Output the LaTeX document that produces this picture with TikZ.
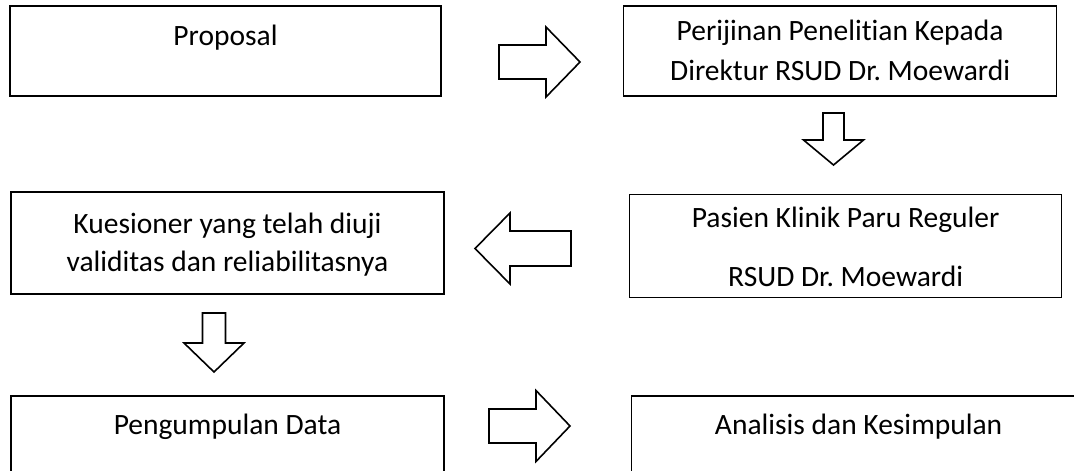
\documentclass[tikz,border=0pt]{standalone}
\usepackage{fontspec}
\setmainfont{Carlito}[RawFeature={-liga}]
\frenchspacing
\usetikzlibrary{positioning}
\tikzset{
  stepbox/.style={draw, rectangle, line width=1.6pt, inner sep=0pt},
  boxtext/.style={anchor=center, align=center, font=\fontsize{29.5}{40}\selectfont},
  fatline/.style={draw, line width=1.6pt, line join=miter, fill=white},
  % block arrow pointing right: length, head length, shaft width, head width
  pics/fatarrow/.style n args={4}{code={
    \path[fatline] (0,-#3/2) -- (#1-#2,-#3/2) -- (#1-#2,-#4/2) -- (#1,0)
      -- (#1-#2,#4/2) -- (#1-#2,#3/2) -- (0,#3/2) -- cycle;
  }},
}
\begin{document}
\begin{tikzpicture}[x=1pt, y=-1pt, node distance=97pt and 181pt]
  \useasboundingbox (0,0) rectangle (1074,471);
  \clip (0,0) rectangle (1074,471);

  \node[stepbox, minimum width=431pt, minimum height=90pt,
        label={[boxtext, yshift=-32pt]north:Proposal}] (prop) at (225.5,51) {};
  \node[stepbox, minimum width=433pt, minimum height=90pt, right=181pt of prop,
        label={[boxtext, yshift=-45pt]north:Perijinan Penelitian Kepada\\Direktur RSUD Dr. Moewardi}] (izin) {};
  \node[stepbox, minimum width=432pt, minimum height=103pt, below=97pt of izin, xshift=5.5pt,
        label={[boxtext, font=\fontsize{29.5}{59}\selectfont, yshift=-53pt]north:Pasien Klinik Paru Reguler\\RSUD Dr. Moewardi}] (pasien) {};
  \node[stepbox, minimum width=433pt, minimum height=102pt, left=184pt of pasien, yshift=3pt,
        label={[boxtext, font=\fontsize{29.5}{38}\selectfont, yshift=-53pt]north:Kuesioner yang telah diuji\\validitas dan reliabilitasnya}] (kues) {};
  \node[stepbox, minimum width=433pt, minimum height=130pt, below=100pt of kues,
        label={[boxtext, yshift=-32pt]north:Pengumpulan Data}] (kumpul) {};
  \node[stepbox, minimum width=454pt, minimum height=130pt, right=186pt of kumpul,
        label={[boxtext, yshift=-32pt]north:Analisis dan Kesimpulan}] (analisis) {};

  % arrows between the steps
  \pic at (499,62) {fatarrow={81}{34}{34}{70}};
  \pic[rotate=-90] at (833.5,113) {fatarrow={52}{25}{21}{60}};
  \pic[rotate=180] at (571,248.5) {fatarrow={96}{35}{35}{71}};
  \pic[rotate=-90] at (214,313) {fatarrow={59}{29}{23}{60}};
  \pic at (489,426) {fatarrow={81}{34}{34}{71}};
\end{tikzpicture}
\end{document}
